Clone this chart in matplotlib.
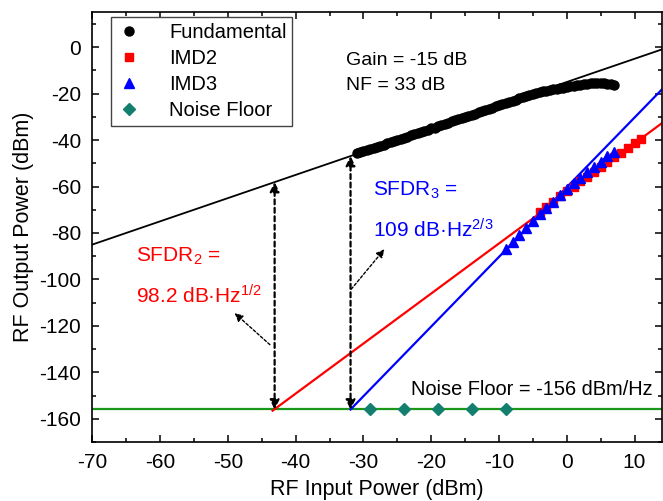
import matplotlib
matplotlib.use("Agg")
import matplotlib.pyplot as plt
from matplotlib.lines import Line2D

plt.rcParams["font.family"] = ["Liberation Sans", "DejaVu Sans"]
plt.rcParams["mathtext.default"] = "regular"
plt.rcParams["axes.unicode_minus"] = False

# valores
fund_x = [-31, -30.5, -30, -29.5, -29, -28.5, -28, -27.5, -27, -26.5, -26, -25.5,
          -25, -24.5, -24, -23.5, -23, -22.5, -22, -21.5, -21, -20.5, -20, -19.5,
          -19, -18.5, -18, -17.5, -17, -16.5, -16, -15.5, -15, -14.5, -14, -13.5,
          -13, -12.5, -12, -11.5, -11, -10.5, -10, -9.5, -9, -8.5, -8, -7.5,
          -7, -6.5, -6, -5.5, -5, -4.5, -4, -3.5, -3, -2.5, -2, -1.5,
          -1, -0.5, 0, 0.5, 1, 1.5, 2, 2.5, 3, 3.5, 4, 4.5,
          5, 5.5, 6, 6.5, 7]
fund_y = [-45.6, -45.2, -44.8, -44.3, -43.9, -43.4, -42.9, -42.4, -42.0, -41.4,
          -41.0, -40.5, -40.0, -39.5, -39.0, -38.5, -38.0, -37.4, -37.0, -36.5,
          -36.0, -35.5, -35.0, -34.6, -34.0, -33.5, -33.0, -32.5, -32.0, -31.5,
          -31.0, -30.5, -30.0, -29.6, -29.0, -28.6, -28.0, -27.5, -27.0, -26.6,
          -26.0, -25.5, -25.0, -24.6, -24.0, -23.6, -23.1, -22.6, -22.1, -21.6,
          -21.2, -20.7, -20.3, -19.8, -19.4, -19.0, -18.7, -18.4, -18.1, -17.9,
          -17.6, -17.4, -17.2, -16.9, -16.7, -16.4, -16.2, -15.9, -15.7, -15.5,
          -15.4, -15.3, -15.4, -15.5, -15.7, -15.9, -16.2]

imd2_x = [-4, -3, -2, -1, 0, 1, 2, 3, 4, 5, 6, 7, 8, 9, 10, 11]
imd2_y = [-71.0, -68.8, -66.5, -64.3, -62.0, -60.0, -57.8, -55.8, -53.6, -51.6,
          -49.5, -47.4, -45.4, -43.3, -41.3, -39.5]

imd3_x = [-9, -8, -7, -6, -5, -4, -3, -2, -1, 0, 1, 2, 3, 4, 5, 6, 7]
imd3_y = [-87.0, -84.0, -81.0, -78.0, -75.0, -72.0, -69.3, -66.5, -63.8, -61.2,
          -58.7, -56.2, -53.8, -51.5, -49.3, -47.0, -45.0]

noise_x = [-29, -24, -19, -14, -9]
noise_y = [-156, -156, -156, -156, -156]
noise_floor = -156

# retas ajustadas (extremos)
fund_fit_x = [-70, 14]
fund_fit_y = [-85, -1]
imd2_fit_x = [-43.4, 14]
imd2_fit_y = [-156.5, -32.8]
imd3_fit_x = [-31.9, 14]
imd3_fit_y = [-156, -18.3]

# setas de SFDR (posicao x na entrada)
sfdr2_x = -43.1
sfdr3_x = -31.9

green = "#1a961a"
teal = "#13806f"

fig = plt.figure(figsize=(6.63, 5.01), dpi=100)
ax = fig.add_axes([0.1392, 0.1178, 0.8588, 0.8576])

ax.axhline(noise_floor, color=green, lw=1.6, zorder=2)
ax.plot(fund_fit_x, fund_fit_y, color="black", lw=1.3, zorder=2)
ax.plot(imd2_fit_x, imd2_fit_y, color="red", lw=1.6, zorder=2)
ax.plot(imd3_fit_x, imd3_fit_y, color="blue", lw=1.6, zorder=2)

ax.plot(fund_x, fund_y, "o", color="black", ms=6.5, zorder=4)
ax.plot(imd2_x, imd2_y, "s", color="red", ms=6, zorder=4)
ax.plot(imd3_x, imd3_y, "^", color="blue", ms=7, zorder=5)
ax.plot(noise_x, noise_y, "D", color=teal, ms=6, zorder=4)

# setas verticais tracejadas (da reta fundamental ate o ruido)
for xs in (sfdr2_x, sfdr3_x):
    top = xs - 15
    ax.annotate("", xy=(xs, top), xytext=(xs, noise_floor),
                arrowprops=dict(arrowstyle="<|-|>", color="black", lw=1.6,
                                linestyle=(0, (2.2, 1.6)), mutation_scale=14,
                                shrinkA=0, shrinkB=0), zorder=3)

ax.annotate("", xy=(-49.0, -114.5), xytext=(-43.8, -128.1),
            arrowprops=dict(arrowstyle="-|>", color="black", lw=1.0,
                            linestyle=(0, (2, 1.5)), mutation_scale=12,
                            shrinkA=0, shrinkB=0))
ax.annotate("", xy=(-26.9, -87.0), xytext=(-31.8, -104.2),
            arrowprops=dict(arrowstyle="-|>", color="black", lw=1.0,
                            linestyle=(0, (2, 1.5)), mutation_scale=12,
                            shrinkA=0, shrinkB=0))

fs = 15
ax.text(-63.6, -90.2, "SFDR$_2$ =", color="red", fontsize=fs, va="center")
ax.text(-63.6, -107.3, "98.2 dB\u00b7Hz$^{1/2}$", color="red", fontsize=fs, va="center")
ax.text(-28.6, -61.6, "SFDR$_3$ =", color="blue", fontsize=fs, va="center")
ax.text(-28.6, -78.8, "109 dB\u00b7Hz$^{2/3}$", color="blue", fontsize=fs, va="center")
ax.text(-32.5, -5.7, "Gain = -15 dB", fontsize=14, va="center")
ax.text(-32.5, -16.5, "NF = 33 dB", fontsize=14, va="center")
ax.text(-23.0, -147.4, "Noise Floor = -156 dBm/Hz", fontsize=14.4, va="center")

ax.set_xlim(-70, 14)
ax.set_ylim(-170, 15)
ax.set_xticks(range(-70, 11, 10))
ax.set_xticks(range(-65, 14, 5), minor=True)
ax.set_yticks(range(-160, 1, 20))
ax.set_yticks(range(-170, 15, 10), minor=True)
ax.tick_params(which="both", direction="in", top=True, right=True, labelsize=15)
ax.tick_params(which="major", length=5, width=1.1, pad=8)
ax.tick_params(which="minor", length=3, width=1.1)
for s in ax.spines.values():
    s.set_linewidth(1.2)

ax.set_xlabel("RF Input Power (dBm)", fontsize=15.5, labelpad=5)
ax.set_ylabel("RF Output Power (dBm)", fontsize=15.5, labelpad=4)

handles = [
    Line2D([], [], ls="none", marker="o", color="black", ms=6.5),
    Line2D([], [], ls="none", marker="s", color="red", ms=5.5),
    Line2D([], [], ls="none", marker="^", color="blue", ms=6.5),
    Line2D([], [], ls="none", marker="D", color=teal, ms=6),
]
leg = ax.legend(handles, ["Fundamental", "IMD2", "IMD3", "Noise Floor"],
                loc="upper left", bbox_to_anchor=(0.032, 0.99), borderaxespad=0,
                fontsize=14.5, fancybox=False, framealpha=1, edgecolor="#444444",
                handlelength=1.2, handletextpad=1.4, labelspacing=0.35,
                borderpad=0.3)
leg.get_frame().set_linewidth(1.0)

fig.savefig("out.png", dpi=100)
